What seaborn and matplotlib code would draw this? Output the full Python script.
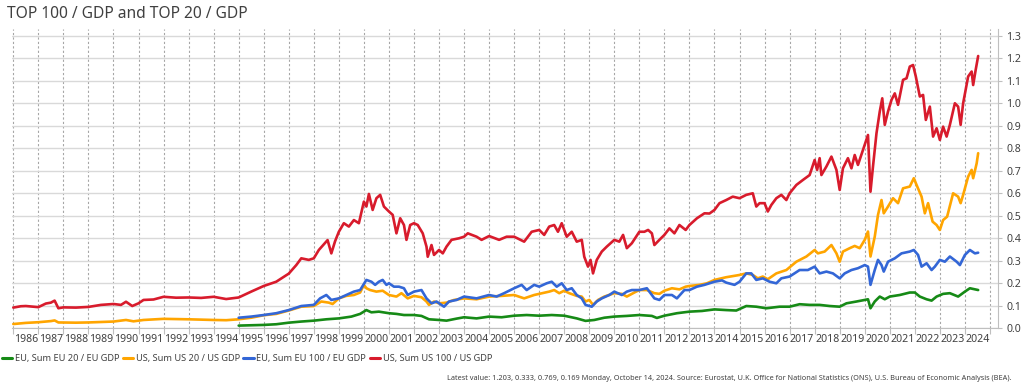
import pandas as pd
import matplotlib
matplotlib.use('Agg')
import matplotlib.pyplot as plt
import seaborn as sns

# --- values (decimal year, ratio to GDP) ---
us100_t = [1986.0, 1986.3, 1986.5, 1987.0, 1987.3, 1987.5, 1987.65, 1987.8, 1988.0, 1988.5,
           1989.0, 1989.5, 1990.0, 1990.3, 1990.5, 1990.75, 1991.0, 1991.2, 1991.6, 1992.0,
           1992.5, 1993.0, 1993.5, 1994.0, 1994.5, 1995.0, 1995.5, 1996.0, 1996.5, 1997.0,
           1997.3, 1997.5, 1997.8, 1998.0, 1998.2, 1998.55, 1998.7, 1998.85, 1999.0, 1999.2,
           1999.4, 1999.6, 1999.8, 2000.0, 2000.1, 2000.2, 2000.35, 2000.5, 2000.65, 2000.8,
           2001.0, 2001.15, 2001.3, 2001.45, 2001.6, 2001.7, 2001.85, 2002.0, 2002.15, 2002.35,
           2002.5, 2002.55, 2002.7, 2002.8, 2003.0, 2003.15, 2003.3, 2003.5, 2003.8, 2004.0,
           2004.15, 2004.5, 2004.7, 2005.0, 2005.4, 2005.7, 2006.0, 2006.4, 2006.7, 2007.0,
           2007.2, 2007.4, 2007.6, 2007.75, 2007.9, 2008.1, 2008.3, 2008.5, 2008.7, 2008.8,
           2008.95, 2009.05, 2009.15, 2009.3, 2009.5, 2009.7, 2010.0, 2010.2, 2010.35, 2010.5,
           2010.7, 2011.0, 2011.2, 2011.35, 2011.5, 2011.6, 2011.8, 2012.0, 2012.2, 2012.4,
           2012.6, 2012.85, 2013.0, 2013.3, 2013.6, 2013.8, 2014.0, 2014.2, 2014.47, 2014.73,
           2015.0, 2015.27, 2015.53, 2015.67, 2015.8, 2016.0, 2016.13, 2016.27, 2016.47, 2016.67,
           2016.87, 2017.0, 2017.27, 2017.53, 2017.8, 2018.0, 2018.1, 2018.2, 2018.27, 2018.47,
           2018.67, 2018.87, 2019.0, 2019.13, 2019.33, 2019.47, 2019.6, 2019.73, 2019.93, 2020.13,
           2020.23, 2020.33, 2020.47, 2020.6, 2020.7, 2020.8, 2020.93, 2021.07, 2021.2, 2021.33,
           2021.53, 2021.67, 2021.8, 2021.93, 2022.04, 2022.2, 2022.33, 2022.44, 2022.6, 2022.73,
           2022.87, 2023.0, 2023.13, 2023.27, 2023.4, 2023.6, 2023.73, 2023.83, 2023.93, 2024.13,
           2024.27, 2024.33, 2024.43, 2024.53]
us100_v = [0.092, 0.098, 0.099, 0.094, 0.110, 0.114, 0.123, 0.089, 0.093, 0.092,
           0.095, 0.104, 0.108, 0.104, 0.118, 0.099, 0.111, 0.126, 0.128, 0.140,
           0.136, 0.137, 0.135, 0.140, 0.130, 0.137, 0.163, 0.188, 0.207, 0.243,
           0.281, 0.311, 0.304, 0.311, 0.348, 0.392, 0.333, 0.387, 0.429, 0.467,
           0.452, 0.481, 0.467, 0.563, 0.541, 0.597, 0.526, 0.578, 0.593, 0.541,
           0.519, 0.504, 0.422, 0.489, 0.459, 0.393, 0.459, 0.467, 0.459, 0.422,
           0.363, 0.318, 0.370, 0.326, 0.348, 0.333, 0.363, 0.393, 0.400, 0.407,
           0.422, 0.407, 0.393, 0.410, 0.393, 0.407, 0.407, 0.385, 0.429, 0.437,
           0.415, 0.452, 0.459, 0.429, 0.467, 0.407, 0.429, 0.385, 0.393, 0.318,
           0.274, 0.304, 0.244, 0.304, 0.341, 0.363, 0.393, 0.385, 0.415, 0.356,
           0.378, 0.429, 0.429, 0.437, 0.422, 0.370, 0.393, 0.415, 0.444, 0.422,
           0.459, 0.437, 0.459, 0.489, 0.511, 0.510, 0.526, 0.556, 0.570, 0.585,
           0.578, 0.593, 0.600, 0.541, 0.556, 0.556, 0.519, 0.548, 0.578, 0.593,
           0.570, 0.600, 0.637, 0.659, 0.681, 0.748, 0.704, 0.756, 0.681, 0.719,
           0.763, 0.704, 0.615, 0.711, 0.756, 0.711, 0.770, 0.726, 0.793, 0.859,
           0.607, 0.719, 0.867, 0.963, 1.022, 0.904, 0.963, 1.015, 1.044, 0.993,
           1.104, 1.111, 1.163, 1.170, 1.119, 1.030, 1.037, 0.926, 0.985, 0.852,
           0.889, 0.837, 0.896, 0.852, 0.904, 1.000, 0.985, 0.904, 1.000, 1.119,
           1.141, 1.081, 1.148, 1.210]

us20_t = [1986.0, 1986.5, 1987.0, 1987.5, 1987.65, 1987.8, 1988.5, 1989.0, 1989.5, 1990.0,
          1990.5, 1990.8, 1991.2, 1992.0, 1993.0, 1994.0, 1994.5, 1995.0, 1995.5, 1996.0,
          1996.5, 1997.0, 1997.5, 1998.0, 1998.3, 1998.6, 1998.75, 1999.0, 1999.3, 1999.6,
          1999.85, 2000.0, 2000.1, 2000.25, 2000.5, 2000.75, 2001.0, 2001.3, 2001.5, 2001.75,
          2002.0, 2002.3, 2002.5, 2002.6, 2002.8, 2003.0, 2003.3, 2003.6, 2004.0, 2004.5,
          2005.0, 2005.5, 2006.0, 2006.4, 2006.8, 2007.0, 2007.4, 2007.6, 2007.8, 2008.0,
          2008.2, 2008.5, 2008.7, 2008.85, 2009.0, 2009.15, 2009.35, 2009.6, 2010.0, 2010.3,
          2010.5, 2010.8, 2011.0, 2011.3, 2011.6, 2011.8, 2012.0, 2012.3, 2012.6, 2012.85,
          2013.0, 2013.4, 2013.7, 2014.0, 2014.47, 2015.0, 2015.27, 2015.53, 2015.73, 2015.93,
          2016.13, 2016.47, 2016.87, 2017.27, 2017.67, 2018.0, 2018.13, 2018.4, 2018.67, 2018.87,
          2019.0, 2019.13, 2019.4, 2019.6, 2019.8, 2020.0, 2020.13, 2020.23, 2020.4, 2020.53,
          2020.67, 2020.76, 2020.93, 2021.13, 2021.33, 2021.53, 2021.8, 2021.96, 2022.07, 2022.27,
          2022.4, 2022.53, 2022.71, 2022.87, 2023.0, 2023.13, 2023.29, 2023.53, 2023.73, 2023.83,
          2023.93, 2024.13, 2024.27, 2024.33, 2024.47, 2024.53]
us20_v = [0.019, 0.024, 0.027, 0.032, 0.035, 0.026, 0.025, 0.026, 0.028, 0.030,
          0.037, 0.031, 0.037, 0.042, 0.040, 0.037, 0.036, 0.040, 0.047, 0.058,
          0.064, 0.079, 0.096, 0.099, 0.119, 0.114, 0.108, 0.133, 0.144, 0.148,
          0.159, 0.193, 0.178, 0.170, 0.163, 0.167, 0.148, 0.141, 0.156, 0.133,
          0.144, 0.138, 0.119, 0.104, 0.119, 0.111, 0.114, 0.126, 0.133, 0.129,
          0.141, 0.144, 0.148, 0.133, 0.148, 0.153, 0.163, 0.170, 0.156, 0.167,
          0.156, 0.144, 0.141, 0.119, 0.126, 0.104, 0.126, 0.141, 0.156, 0.153,
          0.141, 0.159, 0.170, 0.170, 0.156, 0.153, 0.167, 0.178, 0.173, 0.185,
          0.188, 0.193, 0.200, 0.215, 0.227, 0.237, 0.244, 0.237, 0.222, 0.230,
          0.218, 0.244, 0.259, 0.296, 0.319, 0.348, 0.333, 0.341, 0.370, 0.333,
          0.296, 0.341, 0.356, 0.366, 0.356, 0.393, 0.430, 0.319, 0.407, 0.504,
          0.570, 0.511, 0.541, 0.578, 0.556, 0.622, 0.630, 0.667, 0.637, 0.585,
          0.511, 0.556, 0.474, 0.459, 0.437, 0.481, 0.496, 0.600, 0.585, 0.556,
          0.593, 0.674, 0.704, 0.667, 0.733, 0.778]

eu100_t = [1995.0, 1995.5, 1996.0, 1996.5, 1997.0, 1997.5, 1998.0, 1998.25, 1998.5, 1998.7,
           1999.0, 1999.3, 1999.6, 1999.85, 2000.1, 2000.3, 2000.45, 2000.6, 2000.75, 2000.9,
           2001.0, 2001.2, 2001.4, 2001.6, 2001.75, 2002.0, 2002.3, 2002.5, 2002.7, 2002.9,
           2003.2, 2003.4, 2003.7, 2004.0, 2004.5, 2005.0, 2005.3, 2005.6, 2006.0, 2006.3,
           2006.5, 2006.8, 2007.0, 2007.3, 2007.5, 2007.7, 2007.9, 2008.1, 2008.3, 2008.5,
           2008.7, 2008.85, 2009.1, 2009.3, 2009.5, 2009.8, 2010.0, 2010.3, 2010.5, 2010.7,
           2011.0, 2011.3, 2011.6, 2011.8, 2012.0, 2012.3, 2012.5, 2012.8, 2013.0, 2013.3,
           2013.6, 2014.0, 2014.3, 2014.47, 2014.8, 2015.0, 2015.27, 2015.47, 2015.67, 2015.93,
           2016.2, 2016.47, 2016.67, 2017.0, 2017.4, 2017.73, 2018.0, 2018.2, 2018.47, 2018.73,
           2019.0, 2019.2, 2019.47, 2019.73, 2020.0, 2020.13, 2020.23, 2020.4, 2020.53, 2020.67,
           2020.76, 2020.93, 2021.2, 2021.47, 2021.8, 2021.96, 2022.13, 2022.27, 2022.47, 2022.67,
           2022.8, 2023.0, 2023.2, 2023.4, 2023.67, 2023.8, 2024.0, 2024.2, 2024.4, 2024.53]
eu100_v = [0.047, 0.052, 0.059, 0.067, 0.081, 0.099, 0.104, 0.133, 0.148, 0.126,
           0.133, 0.148, 0.163, 0.170, 0.215, 0.207, 0.193, 0.207, 0.215, 0.193,
           0.200, 0.185, 0.185, 0.178, 0.148, 0.163, 0.170, 0.133, 0.111, 0.119,
           0.096, 0.119, 0.126, 0.141, 0.133, 0.148, 0.141, 0.156, 0.178, 0.193,
           0.170, 0.193, 0.185, 0.200, 0.207, 0.185, 0.200, 0.170, 0.178, 0.148,
           0.133, 0.104, 0.096, 0.119, 0.133, 0.148, 0.163, 0.148, 0.163, 0.170,
           0.170, 0.178, 0.133, 0.126, 0.148, 0.148, 0.133, 0.170, 0.170, 0.185,
           0.193, 0.207, 0.213, 0.203, 0.193, 0.207, 0.244, 0.244, 0.215, 0.222,
           0.207, 0.200, 0.222, 0.230, 0.259, 0.259, 0.274, 0.244, 0.252, 0.244,
           0.222, 0.244, 0.259, 0.267, 0.281, 0.274, 0.193, 0.259, 0.304, 0.281,
           0.252, 0.296, 0.311, 0.333, 0.341, 0.348, 0.326, 0.274, 0.289, 0.259,
           0.274, 0.304, 0.296, 0.319, 0.296, 0.281, 0.326, 0.348, 0.333, 0.336]

eu20_t = [1995.0, 1996.0, 1996.5, 1997.0, 1997.5, 1998.0, 1998.5, 1999.0, 1999.5, 1999.85,
          2000.1, 2000.3, 2000.6, 2001.0, 2001.3, 2001.6, 2002.0, 2002.3, 2002.6, 2003.0,
          2003.3, 2003.7, 2004.0, 2004.5, 2005.0, 2005.5, 2006.0, 2006.5, 2007.0, 2007.5,
          2008.0, 2008.5, 2008.85, 2009.2, 2009.6, 2010.0, 2010.5, 2011.0, 2011.5, 2011.7,
          2012.0, 2012.5, 2013.0, 2013.5, 2014.0, 2014.47, 2014.87, 2015.27, 2015.67, 2016.07,
          2016.6, 2017.0, 2017.4, 2017.8, 2018.2, 2018.6, 2019.0, 2019.27, 2019.67, 2020.0,
          2020.13, 2020.23, 2020.4, 2020.6, 2020.8, 2021.0, 2021.4, 2021.8, 2022.0, 2022.2,
          2022.47, 2022.67, 2022.87, 2023.13, 2023.4, 2023.73, 2024.0, 2024.2, 2024.53]
eu20_v = [0.012, 0.015, 0.018, 0.025, 0.030, 0.034, 0.040, 0.044, 0.052, 0.064,
          0.081, 0.071, 0.074, 0.067, 0.064, 0.059, 0.059, 0.055, 0.040, 0.037,
          0.034, 0.043, 0.049, 0.044, 0.052, 0.049, 0.056, 0.059, 0.056, 0.059,
          0.056, 0.044, 0.033, 0.037, 0.047, 0.052, 0.055, 0.059, 0.055, 0.046,
          0.056, 0.067, 0.074, 0.077, 0.084, 0.081, 0.079, 0.099, 0.096, 0.089,
          0.096, 0.096, 0.107, 0.104, 0.104, 0.099, 0.096, 0.111, 0.119, 0.126,
          0.129, 0.089, 0.119, 0.141, 0.129, 0.141, 0.148, 0.159, 0.159, 0.141,
          0.129, 0.123, 0.141, 0.153, 0.156, 0.141, 0.163, 0.178, 0.170]

series_names = ['EU, Sum EU 20 / EU GDP', 'US, Sum US 20 / US GDP',
                'EU, Sum EU 100 / EU GDP', 'US, Sum US 100 / US GDP']
series_colors = ['#168a16', '#ffa500', '#3366d6', '#d81b2c']
year_labels = list(range(1986, 2025))
y_ticks = [0.0, 0.1, 0.2, 0.3, 0.4, 0.5, 0.6, 0.7, 0.8, 0.9, 1.0, 1.1, 1.2, 1.3]

footer = ('Latest value: 1.203, 0.333, 0.769, 0.169 Monday, October 14, 2024. Source: Eurostat, '
          'U.K. Office for National Statistics (ONS), U.S. Bureau of Economic Analysis (BEA).')

frames = []
for name, t, v in zip(series_names, [eu20_t, us20_t, eu100_t, us100_t],
                      [eu20_v, us20_v, eu100_v, us100_v]):
    frames.append(pd.DataFrame({'year': t, 'value': v, 'series': name}))
df = pd.concat(frames, ignore_index=True)

sns.set_style('white')
plt.rcParams['font.family'] = ['Noto Sans', 'DejaVu Sans']

fig = plt.figure(figsize=(10.24, 3.91), dpi=100)
ax = fig.add_axes([12 / 1024, (391 - 328.3) / 391, (997.7 - 12) / 1024, 299.3 / 391])

sns.lineplot(data=df, x='year', y='value', hue='series', hue_order=series_names,
             palette=dict(zip(series_names, series_colors)), estimator=None, sort=False,
             linewidth=1.9, legend=False, ax=ax)

ax.set_xlim(1985.948, 2025.31)
ax.set_ylim(0, 1.33)

# year boundaries as gridlines/ticks, labels centred in each year
ax.set_xticks(year_labels + [2025])
ax.set_xticklabels([])
ax.set_xticks([y + 0.5 for y in year_labels], minor=True)
ax.set_xticklabels([str(y) for y in year_labels], minor=True)
ax.tick_params(axis='x', which='major', length=4, color='#bfbfbf', bottom=True)
ax.tick_params(axis='x', which='minor', length=0, labelsize=7.6, colors='#404040', pad=4)

ax.yaxis.tick_right()
ax.set_yticks(y_ticks)
ax.set_yticklabels([f'{v:.1f}' for v in y_ticks])
ax.tick_params(axis='y', right=True, length=3, color='#bfbfbf', labelsize=7.6,
               labelcolor='#404040', pad=3)

ax.grid(axis='y', color='#d9d9d9', linewidth=1.0)
ax.grid(axis='x', which='major', color='#a6a6a6', linewidth=0.8, linestyle=(0, (2, 2)))
ax.set_axisbelow(True)

for side in ['top', 'left']:
    ax.spines[side].set_visible(False)
for side in ['right', 'bottom']:
    ax.spines[side].set_color('#bfbfbf')
    ax.spines[side].set_linewidth(0.8)

ax.set_xlabel('')
ax.set_ylabel('')

fig.text(7 / 1024, 1 - 14 / 391, 'TOP 100 / GDP and TOP 20 / GDP', fontsize=11.2,
         color='#404040', va='center', ha='left')

handles = [plt.Line2D([], [], color=c, linewidth=2.2) for c in series_colors]
fig.legend(handles, series_names, loc='center left', bbox_to_anchor=(0.0, 1 - 359 / 391),
           ncol=4, frameon=False, fontsize=6.6, handlelength=1.1, handletextpad=0.3,
           columnspacing=0.4, borderaxespad=0, borderpad=0.2, labelcolor='#404040')

fig.text(1012 / 1024, 1 - 378 / 391, footer, fontsize=5.3, color='#404040',
         ha='right', va='center')

fig.savefig('out.png', dpi=100)
